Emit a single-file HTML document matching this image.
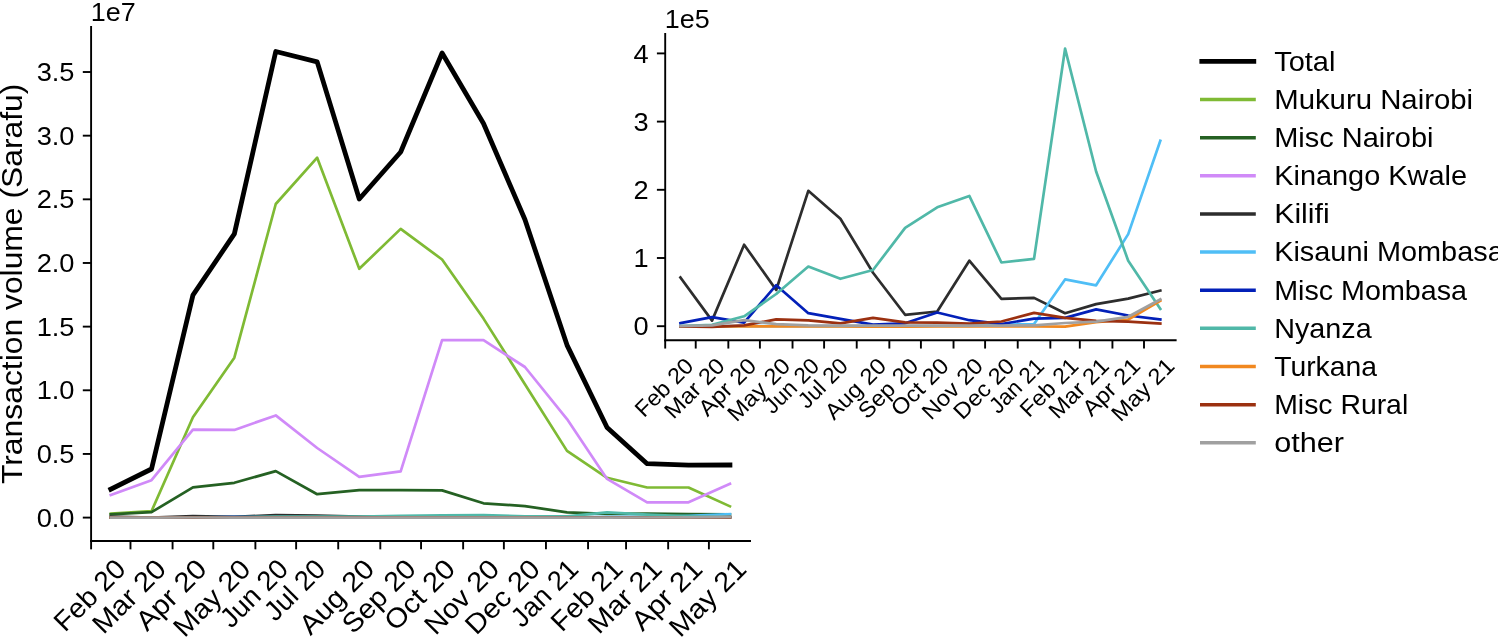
<!DOCTYPE html>
<html><head><meta charset="utf-8"><title>Transaction volume</title>
<style>html,body{margin:0;padding:0;background:#fff;}svg{display:block;will-change:transform;}
text{font-family:"Liberation Sans", sans-serif;fill:#000;}</style></head>
<body><svg width="1498" height="637" viewBox="0 0 1498 637">
<defs><clipPath id="cm"><rect x="91.10" y="0" width="659.89" height="541.05"/></clipPath></defs>
<rect width="1498" height="637" fill="#fff"/>
<g clip-path="url(#cm)">
<polyline points="110.79,489.20 151.52,469.00 192.94,295.10 234.35,233.90 275.76,51.50 317.17,61.90 359.27,199.00 400.68,152.00 442.09,53.00 483.50,123.50 524.92,219.50 567.01,345.10 607.06,427.50 647.12,463.70 688.53,465.20 729.94,465.00" fill="none" stroke="#000000" stroke-width="4.80" stroke-linejoin="round" stroke-linecap="square"/>
<polyline points="110.79,513.70 151.52,511.20 192.94,417.30 234.35,357.70 275.76,204.00 317.17,157.70 359.27,268.80 400.68,228.90 442.09,259.50 483.50,318.60 524.92,384.20 567.01,450.90 607.06,477.80 647.12,487.50 688.53,487.50 729.94,506.30" fill="none" stroke="#7fba34" stroke-width="2.70" stroke-linejoin="round" stroke-linecap="square"/>
<polyline points="110.79,514.30 151.52,512.20 192.94,487.30 234.35,482.80 275.76,471.10 317.17,494.20 359.27,490.10 400.68,490.10 442.09,490.40 483.50,503.30 524.92,506.10 567.01,512.30 607.06,513.80 647.12,513.70 688.53,514.00 729.94,514.30" fill="none" stroke="#256123" stroke-width="2.70" stroke-linejoin="round" stroke-linecap="square"/>
<polyline points="110.79,494.90 151.52,480.20 192.94,429.60 234.35,429.90 275.76,415.40 317.17,448.00 359.27,476.90 400.68,471.30 442.09,340.10 483.50,340.20 524.92,367.00 567.01,419.10 607.06,478.90 647.12,502.30 688.53,502.30 729.94,483.70" fill="none" stroke="#d08af8" stroke-width="2.70" stroke-linejoin="round" stroke-linecap="square"/>
<polyline points="110.79,516.69 151.52,517.50 192.94,516.08 234.35,516.92 275.76,515.07 317.17,515.60 359.27,516.60 400.68,517.39 442.09,517.33 483.50,516.38 524.92,517.09 567.01,517.07 607.06,517.36 647.12,517.19 688.53,517.08 729.94,516.94" fill="none" stroke="#2d2d2d" stroke-width="2.70" stroke-linejoin="round" stroke-linecap="square"/>
<polyline points="110.79,517.60 151.52,517.60 192.94,517.60 234.35,517.60 275.76,517.60 317.17,517.60 359.27,517.60 400.68,517.60 442.09,517.60 483.50,517.59 524.92,517.57 567.01,517.56 607.06,516.73 647.12,516.84 688.53,515.88 729.94,514.14" fill="none" stroke="#4fbef6" stroke-width="2.70" stroke-linejoin="round" stroke-linecap="square"/>
<polyline points="110.79,517.54 151.52,517.43 192.94,517.53 234.35,516.83 275.76,517.36 317.17,517.46 359.27,517.57 400.68,517.55 442.09,517.34 483.50,517.49 524.92,517.56 567.01,517.46 607.06,517.45 647.12,517.29 688.53,517.40 729.94,517.47" fill="none" stroke="#0320b8" stroke-width="2.70" stroke-linejoin="round" stroke-linecap="square"/>
<polyline points="110.79,517.60 151.52,517.58 192.94,517.42 234.35,517.00 275.76,516.49 317.17,516.72 359.27,516.55 400.68,515.77 442.09,515.38 483.50,515.17 524.92,516.41 567.01,516.34 607.06,512.42 647.12,514.71 688.53,516.38 729.94,517.28" fill="none" stroke="#50b8a8" stroke-width="2.70" stroke-linejoin="round" stroke-linecap="square"/>
<polyline points="110.79,517.60 151.52,517.60 192.94,517.60 234.35,517.60 275.76,517.60 317.17,517.60 359.27,517.61 400.68,517.61 442.09,517.60 483.50,517.60 524.92,517.61 567.01,517.61 607.06,517.61 647.12,517.52 688.53,517.47 729.94,517.13" fill="none" stroke="#f1881f" stroke-width="2.70" stroke-linejoin="round" stroke-linecap="square"/>
<polyline points="110.79,517.61 151.52,517.61 192.94,517.59 234.35,517.47 275.76,517.49 317.17,517.55 359.27,517.44 400.68,517.53 442.09,517.53 483.50,517.55 524.92,517.51 567.01,517.35 607.06,517.44 647.12,517.50 688.53,517.51 729.94,517.55" fill="none" stroke="#9b3010" stroke-width="2.70" stroke-linejoin="round" stroke-linecap="square"/>
<polyline points="110.79,517.60 151.52,517.59 192.94,517.49 234.35,517.56 275.76,517.58 317.17,517.59 359.27,517.59 400.68,517.59 442.09,517.59 483.50,517.59 524.92,517.59 567.01,517.58 607.06,517.54 647.12,517.51 688.53,517.42 729.94,517.10" fill="none" stroke="#a0a0a0" stroke-width="2.70" stroke-linejoin="round" stroke-linecap="square"/>
</g>
<polyline points="680.46,277.50 712.03,320.60 744.12,244.70 776.22,290.00 808.31,190.80 840.41,218.80 873.03,272.70 905.12,314.80 937.22,311.50 969.31,260.70 1001.41,298.80 1034.03,297.90 1065.07,313.20 1096.12,304.10 1128.21,298.60 1160.31,290.60" fill="none" stroke="#2d2d2d" stroke-width="2.70" stroke-linejoin="round" stroke-linecap="square"/>
<polyline points="680.46,326.20 712.03,326.20 744.12,326.20 776.22,326.20 808.31,326.20 840.41,326.20 873.03,326.20 905.12,326.20 937.22,326.00 969.31,325.80 1001.41,324.80 1034.03,324.00 1065.07,279.40 1096.12,285.30 1128.21,234.10 1160.31,140.80" fill="none" stroke="#4fbef6" stroke-width="2.70" stroke-linejoin="round" stroke-linecap="square"/>
<polyline points="680.46,323.20 712.03,317.10 744.12,322.60 776.22,285.20 808.31,313.20 840.41,318.80 873.03,324.70 905.12,323.30 937.22,312.50 969.31,320.20 1001.41,324.00 1034.03,318.60 1065.07,317.90 1096.12,309.40 1128.21,315.50 1160.31,319.50" fill="none" stroke="#0320b8" stroke-width="2.70" stroke-linejoin="round" stroke-linecap="square"/>
<polyline points="680.46,326.00 712.03,324.90 744.12,316.30 776.22,294.00 808.31,266.50 840.41,278.80 873.03,270.00 905.12,227.90 937.22,207.30 969.31,195.90 1001.41,262.50 1034.03,258.80 1065.07,48.70 1096.12,171.50 1128.21,260.70 1160.31,308.80" fill="none" stroke="#50b8a8" stroke-width="2.70" stroke-linejoin="round" stroke-linecap="square"/>
<polyline points="680.46,326.30 712.03,326.30 744.12,326.30 776.22,326.30 808.31,326.30 840.41,326.30 873.03,326.70 905.12,326.70 937.22,326.30 969.31,326.30 1001.41,326.50 1034.03,326.50 1065.07,326.70 1096.12,322.10 1128.21,319.50 1160.31,300.80" fill="none" stroke="#f1881f" stroke-width="2.70" stroke-linejoin="round" stroke-linecap="square"/>
<polyline points="680.46,326.50 712.03,326.80 744.12,325.40 776.22,319.40 808.31,320.30 840.41,323.30 873.03,317.80 905.12,322.30 937.22,322.60 969.31,323.60 1001.41,321.50 1034.03,312.90 1065.07,317.80 1096.12,320.90 1128.21,321.60 1160.31,323.50" fill="none" stroke="#9b3010" stroke-width="2.70" stroke-linejoin="round" stroke-linecap="square"/>
<polyline points="680.46,326.20 712.03,325.40 744.12,320.10 776.22,324.10 808.31,325.30 840.41,325.60 873.03,325.60 905.12,325.60 937.22,325.60 969.31,325.60 1001.41,325.60 1034.03,325.30 1065.07,323.00 1096.12,321.60 1128.21,316.80 1160.31,299.40" fill="none" stroke="#a0a0a0" stroke-width="2.70" stroke-linejoin="round" stroke-linecap="square"/>
<path d="M91.10 26.95V541.05" stroke="#000" stroke-width="1.90" fill="none" stroke-linecap="square"/>
<path d="M91.10 541.05H750.04" stroke="#000" stroke-width="1.90" fill="none" stroke-linecap="square"/>
<path d="M82.80 517.60H91.10" stroke="#000" stroke-width="1.90"/>
<text x="36.65" y="526.70" font-size="25.35" textLength="37.85" lengthAdjust="spacingAndGlyphs">0.0</text>
<path d="M82.80 453.95H91.10" stroke="#000" stroke-width="1.90"/>
<text x="36.65" y="463.05" font-size="25.35" textLength="37.85" lengthAdjust="spacingAndGlyphs">0.5</text>
<path d="M82.80 390.29H91.10" stroke="#000" stroke-width="1.90"/>
<text x="36.65" y="399.39" font-size="25.35" textLength="37.85" lengthAdjust="spacingAndGlyphs">1.0</text>
<path d="M82.80 326.63H91.10" stroke="#000" stroke-width="1.90"/>
<text x="36.65" y="335.74" font-size="25.35" textLength="37.85" lengthAdjust="spacingAndGlyphs">1.5</text>
<path d="M82.80 262.98H91.10" stroke="#000" stroke-width="1.90"/>
<text x="36.65" y="272.08" font-size="25.35" textLength="37.85" lengthAdjust="spacingAndGlyphs">2.0</text>
<path d="M82.80 199.33H91.10" stroke="#000" stroke-width="1.90"/>
<text x="36.65" y="208.43" font-size="25.35" textLength="37.85" lengthAdjust="spacingAndGlyphs">2.5</text>
<path d="M82.80 135.67H91.10" stroke="#000" stroke-width="1.90"/>
<text x="36.65" y="144.77" font-size="25.35" textLength="37.85" lengthAdjust="spacingAndGlyphs">3.0</text>
<path d="M82.80 72.01H91.10" stroke="#000" stroke-width="1.90"/>
<text x="36.65" y="81.11" font-size="25.35" textLength="37.85" lengthAdjust="spacingAndGlyphs">3.5</text>
<path d="M91.10 541.05V549.35" stroke="#000" stroke-width="1.90"/>
<text x="0.00" y="0.00" font-size="27.51" textLength="88.05" lengthAdjust="spacingAndGlyphs" transform="translate(65.08 632.99) rotate(-45)">Feb 20</text>
<path d="M130.48 541.05V549.35" stroke="#000" stroke-width="1.90"/>
<text x="0.00" y="0.00" font-size="27.51" textLength="91.10" lengthAdjust="spacingAndGlyphs" transform="translate(103.38 635.15) rotate(-45)">Mar 20</text>
<path d="M172.57 541.05V549.35" stroke="#000" stroke-width="1.90"/>
<text x="0.00" y="0.00" font-size="27.51" textLength="86.99" lengthAdjust="spacingAndGlyphs" transform="translate(146.93 632.24) rotate(-45)">Apr 20</text>
<path d="M213.30 541.05V549.35" stroke="#000" stroke-width="1.90"/>
<text x="0.00" y="0.00" font-size="27.51" textLength="95.83" lengthAdjust="spacingAndGlyphs" transform="translate(184.53 638.49) rotate(-45)">May 20</text>
<path d="M255.39 541.05V549.35" stroke="#000" stroke-width="1.90"/>
<text x="0.00" y="0.00" font-size="27.51" textLength="82.60" lengthAdjust="spacingAndGlyphs" transform="translate(231.30 629.14) rotate(-45)">Jun 20</text>
<path d="M296.13 541.05V549.35" stroke="#000" stroke-width="1.90"/>
<text x="0.00" y="0.00" font-size="27.51" textLength="73.28" lengthAdjust="spacingAndGlyphs" transform="translate(275.33 622.55) rotate(-45)">Jul 20</text>
<path d="M338.22 541.05V549.35" stroke="#000" stroke-width="1.90"/>
<text x="0.00" y="0.00" font-size="27.51" textLength="92.83" lengthAdjust="spacingAndGlyphs" transform="translate(310.51 636.37) rotate(-45)">Aug 20</text>
<path d="M380.31 541.05V549.35" stroke="#000" stroke-width="1.90"/>
<text x="0.00" y="0.00" font-size="27.51" textLength="91.05" lengthAdjust="spacingAndGlyphs" transform="translate(353.23 635.11) rotate(-45)">Sep 20</text>
<path d="M421.05 541.05V549.35" stroke="#000" stroke-width="1.90"/>
<text x="0.00" y="0.00" font-size="27.51" textLength="86.97" lengthAdjust="spacingAndGlyphs" transform="translate(395.41 632.22) rotate(-45)">Oct 20</text>
<path d="M463.14 541.05V549.35" stroke="#000" stroke-width="1.90"/>
<text x="0.00" y="0.00" font-size="27.51" textLength="92.80" lengthAdjust="spacingAndGlyphs" transform="translate(435.44 636.35) rotate(-45)">Nov 20</text>
<path d="M503.87 541.05V549.35" stroke="#000" stroke-width="1.90"/>
<text x="0.00" y="0.00" font-size="27.51" textLength="92.37" lengthAdjust="spacingAndGlyphs" transform="translate(476.33 636.04) rotate(-45)">Dec 20</text>
<path d="M545.96 541.05V549.35" stroke="#000" stroke-width="1.90"/>
<text x="0.00" y="0.00" font-size="27.51" textLength="82.05" lengthAdjust="spacingAndGlyphs" transform="translate(522.07 628.75) rotate(-45)">Jan 21</text>
<path d="M588.05 541.05V549.35" stroke="#000" stroke-width="1.90"/>
<text x="0.00" y="0.00" font-size="27.51" textLength="88.05" lengthAdjust="spacingAndGlyphs" transform="translate(562.04 632.99) rotate(-45)">Feb 21</text>
<path d="M626.07 541.05V549.35" stroke="#000" stroke-width="1.90"/>
<text x="0.00" y="0.00" font-size="27.51" textLength="91.10" lengthAdjust="spacingAndGlyphs" transform="translate(598.98 635.15) rotate(-45)">Mar 21</text>
<path d="M668.16 541.05V549.35" stroke="#000" stroke-width="1.90"/>
<text x="0.00" y="0.00" font-size="27.51" textLength="86.99" lengthAdjust="spacingAndGlyphs" transform="translate(642.52 632.24) rotate(-45)">Apr 21</text>
<path d="M708.90 541.05V549.35" stroke="#000" stroke-width="1.90"/>
<text x="0.00" y="0.00" font-size="27.51" textLength="95.83" lengthAdjust="spacingAndGlyphs" transform="translate(680.13 638.49) rotate(-45)">May 21</text>
<text x="90.70" y="20.90" font-size="25.35" textLength="44.93" lengthAdjust="spacingAndGlyphs">1e7</text>
<path d="M665.20 33.95V340.25" stroke="#000" stroke-width="1.90" fill="none" stroke-linecap="square"/>
<path d="M665.20 340.25H1175.67" stroke="#000" stroke-width="1.90" fill="none" stroke-linecap="square"/>
<path d="M656.90 326.20H665.20" stroke="#000" stroke-width="1.90"/>
<text x="633.46" y="335.30" font-size="25.35" textLength="15.14" lengthAdjust="spacingAndGlyphs">0</text>
<path d="M656.90 258.00H665.20" stroke="#000" stroke-width="1.90"/>
<text x="633.46" y="267.10" font-size="25.35" textLength="15.14" lengthAdjust="spacingAndGlyphs">1</text>
<path d="M656.90 189.80H665.20" stroke="#000" stroke-width="1.90"/>
<text x="633.46" y="198.90" font-size="25.35" textLength="15.14" lengthAdjust="spacingAndGlyphs">2</text>
<path d="M656.90 121.60H665.20" stroke="#000" stroke-width="1.90"/>
<text x="633.46" y="130.70" font-size="25.35" textLength="15.14" lengthAdjust="spacingAndGlyphs">3</text>
<path d="M656.90 53.40H665.20" stroke="#000" stroke-width="1.90"/>
<text x="633.46" y="62.50" font-size="25.35" textLength="15.14" lengthAdjust="spacingAndGlyphs">4</text>
<path d="M665.20 340.25V348.55" stroke="#000" stroke-width="1.90"/>
<text x="0.00" y="0.00" font-size="22.47" textLength="71.92" lengthAdjust="spacingAndGlyphs" transform="translate(643.95 418.21) rotate(-45)">Feb 20</text>
<path d="M695.72 340.25V348.55" stroke="#000" stroke-width="1.90"/>
<text x="0.00" y="0.00" font-size="22.47" textLength="74.41" lengthAdjust="spacingAndGlyphs" transform="translate(673.59 419.97) rotate(-45)">Mar 20</text>
<path d="M728.34 340.25V348.55" stroke="#000" stroke-width="1.90"/>
<text x="0.00" y="0.00" font-size="22.47" textLength="71.05" lengthAdjust="spacingAndGlyphs" transform="translate(707.39 417.59) rotate(-45)">Apr 20</text>
<path d="M759.91 340.25V348.55" stroke="#000" stroke-width="1.90"/>
<text x="0.00" y="0.00" font-size="22.47" textLength="78.28" lengthAdjust="spacingAndGlyphs" transform="translate(736.41 422.70) rotate(-45)">May 20</text>
<path d="M792.53 340.25V348.55" stroke="#000" stroke-width="1.90"/>
<text x="0.00" y="0.00" font-size="22.47" textLength="67.47" lengthAdjust="spacingAndGlyphs" transform="translate(772.85 415.06) rotate(-45)">Jun 20</text>
<path d="M824.10 340.25V348.55" stroke="#000" stroke-width="1.90"/>
<text x="0.00" y="0.00" font-size="22.47" textLength="59.85" lengthAdjust="spacingAndGlyphs" transform="translate(807.11 409.67) rotate(-45)">Jul 20</text>
<path d="M856.72 340.25V348.55" stroke="#000" stroke-width="1.90"/>
<text x="0.00" y="0.00" font-size="22.47" textLength="75.82" lengthAdjust="spacingAndGlyphs" transform="translate(834.09 420.96) rotate(-45)">Aug 20</text>
<path d="M889.34 340.25V348.55" stroke="#000" stroke-width="1.90"/>
<text x="0.00" y="0.00" font-size="22.47" textLength="74.37" lengthAdjust="spacingAndGlyphs" transform="translate(867.22 419.94) rotate(-45)">Sep 20</text>
<path d="M920.91 340.25V348.55" stroke="#000" stroke-width="1.90"/>
<text x="0.00" y="0.00" font-size="22.47" textLength="71.03" lengthAdjust="spacingAndGlyphs" transform="translate(899.97 417.58) rotate(-45)">Oct 20</text>
<path d="M953.53 340.25V348.55" stroke="#000" stroke-width="1.90"/>
<text x="0.00" y="0.00" font-size="22.47" textLength="75.80" lengthAdjust="spacingAndGlyphs" transform="translate(930.91 420.95) rotate(-45)">Nov 20</text>
<path d="M985.10 340.25V348.55" stroke="#000" stroke-width="1.90"/>
<text x="0.00" y="0.00" font-size="22.47" textLength="75.44" lengthAdjust="spacingAndGlyphs" transform="translate(962.60 420.70) rotate(-45)">Dec 20</text>
<path d="M1017.72 340.25V348.55" stroke="#000" stroke-width="1.90"/>
<text x="0.00" y="0.00" font-size="22.47" textLength="67.02" lengthAdjust="spacingAndGlyphs" transform="translate(998.20 414.74) rotate(-45)">Jan 21</text>
<path d="M1050.34 340.25V348.55" stroke="#000" stroke-width="1.90"/>
<text x="0.00" y="0.00" font-size="22.47" textLength="71.92" lengthAdjust="spacingAndGlyphs" transform="translate(1029.09 418.21) rotate(-45)">Feb 21</text>
<path d="M1079.81 340.25V348.55" stroke="#000" stroke-width="1.90"/>
<text x="0.00" y="0.00" font-size="22.47" textLength="74.41" lengthAdjust="spacingAndGlyphs" transform="translate(1057.68 419.97) rotate(-45)">Mar 21</text>
<path d="M1112.43 340.25V348.55" stroke="#000" stroke-width="1.90"/>
<text x="0.00" y="0.00" font-size="22.47" textLength="71.05" lengthAdjust="spacingAndGlyphs" transform="translate(1091.48 417.59) rotate(-45)">Apr 21</text>
<path d="M1144.00 340.25V348.55" stroke="#000" stroke-width="1.90"/>
<text x="0.00" y="0.00" font-size="22.47" textLength="78.28" lengthAdjust="spacingAndGlyphs" transform="translate(1120.50 422.70) rotate(-45)">May 21</text>
<text x="664.80" y="27.90" font-size="25.35" textLength="44.93" lengthAdjust="spacingAndGlyphs">1e5</text>
<text x="0.00" y="0.00" font-size="29.82" textLength="400.40" lengthAdjust="spacingAndGlyphs" transform="translate(21.8 484.0) rotate(-90)">Transaction volume (Sarafu)</text>
<path d="M1199.40 61.35H1256.20" stroke="#000000" stroke-width="4.80"/>
<text x="1274.20" y="70.65" font-size="27.51" textLength="61.19" lengthAdjust="spacingAndGlyphs">Total</text>
<path d="M1200.00 99.50H1255.80" stroke="#7fba34" stroke-width="3.50"/>
<text x="1274.20" y="108.80" font-size="27.51" textLength="198.96" lengthAdjust="spacingAndGlyphs">Mukuru Nairobi</text>
<path d="M1200.00 137.64H1255.80" stroke="#256123" stroke-width="3.50"/>
<text x="1274.20" y="146.94" font-size="27.51" textLength="159.34" lengthAdjust="spacingAndGlyphs">Misc Nairobi</text>
<path d="M1200.00 175.79H1255.80" stroke="#d08af8" stroke-width="3.50"/>
<text x="1274.20" y="185.09" font-size="27.51" textLength="192.78" lengthAdjust="spacingAndGlyphs">Kinango Kwale</text>
<path d="M1200.00 213.93H1255.80" stroke="#2d2d2d" stroke-width="3.50"/>
<text x="1274.20" y="223.23" font-size="27.51" textLength="55.52" lengthAdjust="spacingAndGlyphs">Kilifi</text>
<path d="M1200.00 252.08H1255.80" stroke="#4fbef6" stroke-width="3.50"/>
<text x="1274.20" y="261.38" font-size="27.51" textLength="229.53" lengthAdjust="spacingAndGlyphs">Kisauni Mombasa</text>
<path d="M1200.00 290.23H1255.80" stroke="#0320b8" stroke-width="3.50"/>
<text x="1274.20" y="299.53" font-size="27.51" textLength="192.82" lengthAdjust="spacingAndGlyphs">Misc Mombasa</text>
<path d="M1200.00 328.37H1255.80" stroke="#50b8a8" stroke-width="3.50"/>
<text x="1274.20" y="337.67" font-size="27.51" textLength="97.57" lengthAdjust="spacingAndGlyphs">Nyanza</text>
<path d="M1200.00 366.52H1255.80" stroke="#f1881f" stroke-width="3.50"/>
<text x="1274.20" y="375.82" font-size="27.51" textLength="102.83" lengthAdjust="spacingAndGlyphs">Turkana</text>
<path d="M1200.00 404.66H1255.80" stroke="#9b3010" stroke-width="3.50"/>
<text x="1274.20" y="413.96" font-size="27.51" textLength="134.01" lengthAdjust="spacingAndGlyphs">Misc Rural</text>
<path d="M1200.00 442.81H1255.80" stroke="#a0a0a0" stroke-width="3.50"/>
<text x="1274.20" y="452.11" font-size="27.51" textLength="69.80" lengthAdjust="spacingAndGlyphs">other</text>
</svg></body></html>
